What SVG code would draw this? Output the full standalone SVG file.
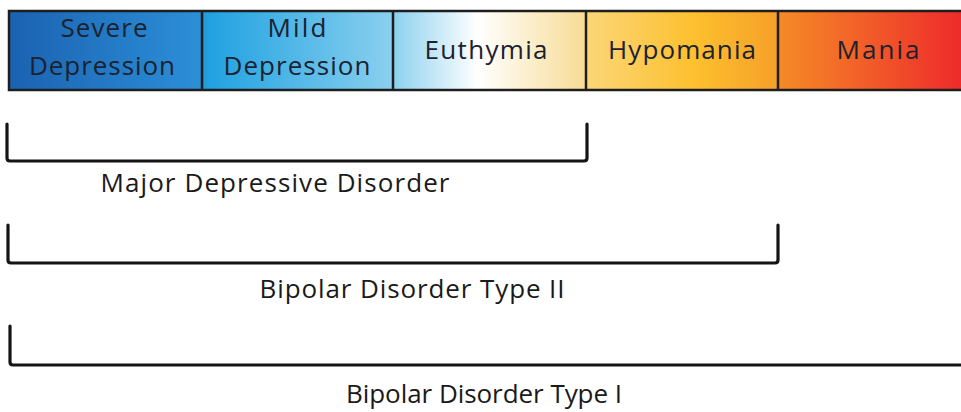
<svg xmlns="http://www.w3.org/2000/svg" width="961" height="412" viewBox="0 0 961 412">
<style>
.lbl{font-family:"Open Sans","Liberation Sans",sans-serif;font-size:26px;fill:#1b2230;text-anchor:middle}
.blbl{font-family:"Open Sans","Liberation Sans",sans-serif;font-size:26px;fill:#1a1a1a;text-anchor:middle}
.div{stroke:#1e1e1e;stroke-width:2.5}
.brk{fill:none;stroke:#141414;stroke-width:3.2;stroke-linejoin:round;stroke-linecap:round}
</style>
<defs>
<linearGradient id="spec" gradientUnits="userSpaceOnUse" x1="9" y1="0" x2="961" y2="0">
<stop offset="0" stop-color="#1b62b1"/>
<stop offset="0.201" stop-color="#2b8fd7"/>
<stop offset="0.207" stop-color="#1fa1e0"/>
<stop offset="0.405" stop-color="#8bd0ef"/>
<stop offset="0.41" stop-color="#94d4f0"/>
<stop offset="0.492" stop-color="#ffffff"/>
<stop offset="0.603" stop-color="#f8dd98"/>
<stop offset="0.608" stop-color="#fbd677"/>
<stop offset="0.72" stop-color="#fdc02e"/>
<stop offset="0.806" stop-color="#f6a029"/>
<stop offset="0.81" stop-color="#f58a26"/>
<stop offset="1" stop-color="#ee2b2b"/>
</linearGradient>
</defs>
<rect x="0" y="0" width="961" height="412" fill="#ffffff"/>
<g id="spectrum">
<rect x="9" y="11" width="960" height="79" fill="url(#spec)" stroke="#1e1e1e" stroke-width="2.5"/>
<line class="div" x1="202" y1="11" x2="202" y2="90"/>
<line class="div" x1="393" y1="11" x2="393" y2="90"/>
<line class="div" x1="586" y1="11" x2="586" y2="90"/>
<line class="div" x1="778" y1="11" x2="778" y2="90"/>
</g>
<g id="severe-depression">
<text class="lbl" x="104" y="37" textLength="87">Severe</text>
<text class="lbl" x="102" y="75" textLength="146">Depression</text>
</g>
<g id="mild-depression">
<text class="lbl" x="297" y="37" textLength="59">Mild</text>
<text class="lbl" x="297" y="75" textLength="147">Depression</text>
</g>
<g id="euthymia">
<text class="lbl" x="486" y="59" textLength="123">Euthymia</text>
</g>
<g id="hypomania">
<text class="lbl" x="682" y="59" textLength="148">Hypomania</text>
</g>
<g id="mania">
<text class="lbl" x="878" y="59" textLength="83">Mania</text>
</g>
<g id="connectors">
<path class="brk" d="M7 124 V158 Q7 161 10 161 H584 Q587 161 587 158 V124"/>
<path class="brk" d="M8 225 V260 Q8 263 11 263 H775 Q778 263 778 260 V225"/>
<path class="brk" d="M10 326 V362 Q10 365 13 365 H964"/>
</g>
<g id="mdd">
<text class="blbl" x="275" y="192" textLength="349">Major Depressive Disorder</text>
</g>
<g id="bp2">
<text class="blbl" x="412" y="298" textLength="305">Bipolar Disorder Type II</text>
</g>
<g id="bp1">
<text class="blbl" x="484" y="403" textLength="276">Bipolar Disorder Type I</text>
</g>
</svg>
